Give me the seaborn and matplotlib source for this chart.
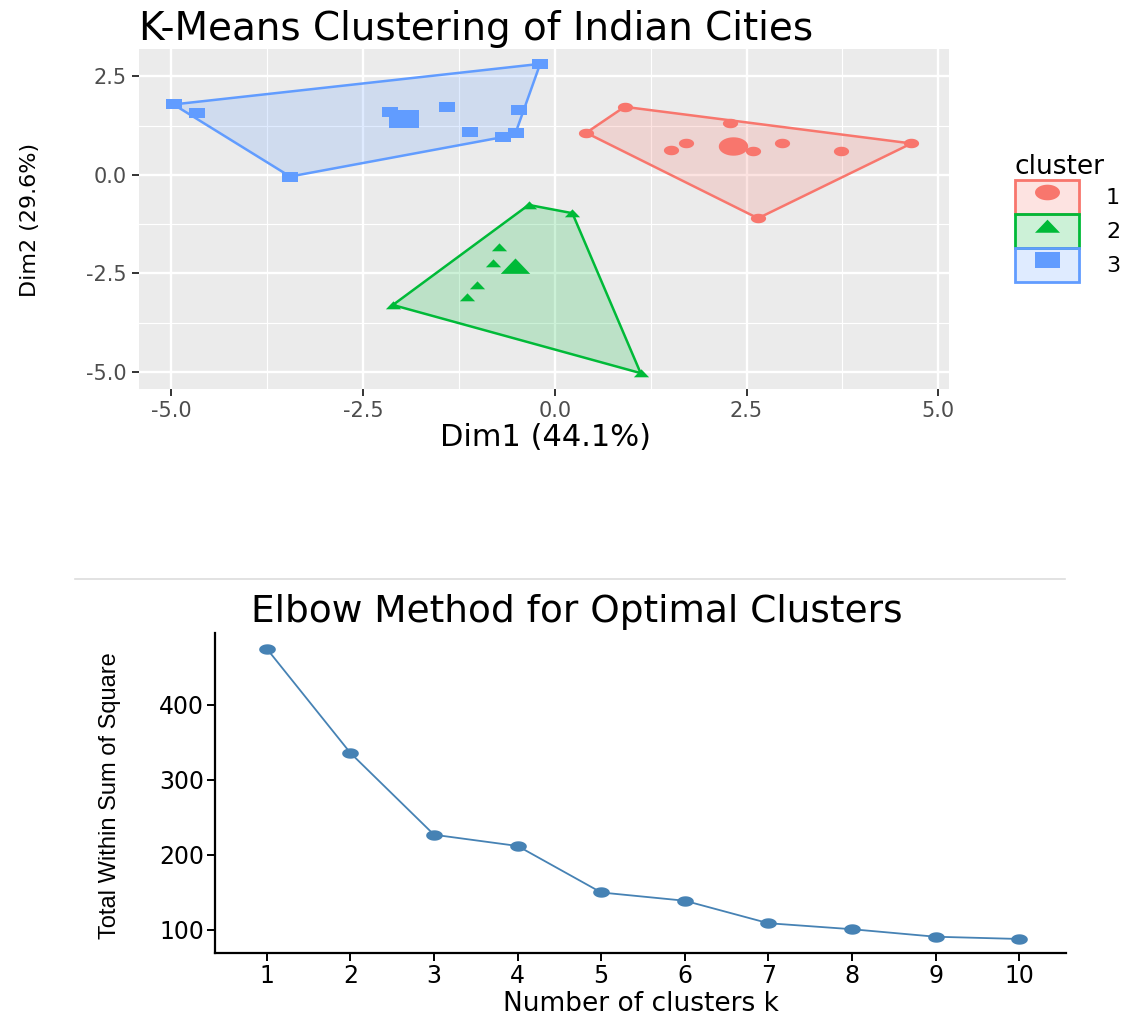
import numpy as np
import pandas as pd
import matplotlib
matplotlib.use("Agg")
import matplotlib.pyplot as plt
import seaborn as sns
from matplotlib.path import Path
from matplotlib.patches import Polygon, Patch
from matplotlib.lines import Line2D
from matplotlib import font_manager

# ---------------- data ----------------
c1_x = [0.91, 0.41, 2.29, 1.71, 1.52, 2.58, 2.96, 3.73, 4.65, 2.65]
c1_y = [1.73, 1.07, 1.31, 0.80, 0.63, 0.62, 0.80, 0.60, 0.80, -1.10]
c2_x = [-0.34, 0.23, -2.11, 1.12, -0.73, -0.81, -1.02, -1.15]
c2_y = [-0.76, -0.97, -3.30, -5.03, -1.84, -2.24, -2.79, -3.10]
c3_x = [-4.97, -4.67, -3.45, -2.15, -1.41, -1.11, -0.68, -0.51, -0.46, -0.19]
c3_y = [1.79, 1.57, -0.04, 1.59, 1.73, 1.10, 0.96, 1.07, 1.65, 2.82]
centers_x = [2.33, -0.52, -1.96]
centers_y = [0.74, -2.31, 1.43]
cluster_labels = ["1", "2", "3"]

k_values = [1, 2, 3, 4, 5, 6, 7, 8, 9, 10]
wss = [475, 336, 227, 212, 150, 139, 109, 101, 91, 88]

# ---------------- style ----------------
FONT = "DejaVu Sans"
plt.rcParams["font.family"] = [FONT]
available = {f.name for f in font_manager.fontManager.ttflist}

colors = ["#F8766D", "#00BA38", "#619CFF"]

# horizontally stretched markers (the reference is a stretched screenshot)
sx = 1.6
theta = np.linspace(0, 2 * np.pi, 40)
ellipse = Path(np.column_stack([sx * np.cos(theta), np.sin(theta)]), closed=True)
tri = Path([(-1.1, -0.55), (1.1, -0.55), (0.0, 0.6), (-1.1, -0.55)], closed=True)
rect = Path([(-sx / 2, -0.5), (sx / 2, -0.5), (sx / 2, 0.5), (-sx / 2, 0.5), (-sx / 2, -0.5)], closed=True)
markers = [ellipse, tri, rect]


def convex_hull(pts):
    pts = sorted(set(pts))
    if len(pts) <= 2:
        return pts

    def cross(o, a, b):
        return (a[0] - o[0]) * (b[1] - o[1]) - (a[1] - o[1]) * (b[0] - o[0])

    lower = []
    for p in pts:
        while len(lower) >= 2 and cross(lower[-2], lower[-1], p) <= 0:
            lower.pop()
        lower.append(p)
    upper = []
    for p in reversed(pts):
        while len(upper) >= 2 and cross(upper[-2], upper[-1], p) <= 0:
            upper.pop()
        upper.append(p)
    return lower[:-1] + upper[:-1]


fig = plt.figure(figsize=(11.3, 10.16), dpi=100)
fig.patch.set_facecolor("white")

# ---------------- top: k-means scatter ----------------
ax1 = fig.add_axes([139 / 1130, 1 - 388.5 / 1016, (949 - 139) / 1130, (388.5 - 48.5) / 1016])
ax1.set_facecolor("#EBEBEB")
ax1.set_xlim(-5.42, 5.14)
ax1.set_ylim(-5.42, 3.21)
ax1.set_xticks([-5.0, -2.5, 0.0, 2.5, 5.0])
ax1.set_yticks([-5.0, -2.5, 0.0, 2.5])
ax1.set_xticks([-3.75, -1.25, 1.25, 3.75], minor=True)
ax1.set_yticks([-3.75, -1.25, 1.25], minor=True)
ax1.grid(which="major", color="white", lw=1.7)
ax1.grid(which="minor", color="white", lw=0.8)
ax1.set_axisbelow(True)
for s in ax1.spines.values():
    s.set_visible(False)
ax1.tick_params(which="major", length=5, width=1.4, color="#333333",
                labelsize=15, labelcolor="#4D4D4D", pad=4)
ax1.tick_params(which="minor", length=0)
ax1.set_xticklabels(["-5.0", "-2.5", "0.0", "2.5", "5.0"])
ax1.set_yticklabels(["-5.0", "-2.5", "0.0", "2.5"])

clusters = [(c1_x, c1_y), (c2_x, c2_y), (c3_x, c3_y)]
for i, (xs, ys) in enumerate(clusters):
    hull = convex_hull(list(zip(xs, ys)))
    poly = Polygon(hull, closed=True, facecolor=matplotlib.colors.to_rgba(colors[i], 0.2),
                   edgecolor=colors[i], lw=1.8, zorder=2)
    ax1.add_patch(poly)
    df = pd.DataFrame({"x": xs, "y": ys})
    sns.scatterplot(data=df, x="x", y="y", ax=ax1, color=colors[i], marker=markers[i],
                    s=120, linewidth=0, zorder=3, legend=False)
    cdf = pd.DataFrame({"x": [centers_x[i]], "y": [centers_y[i]]})
    sns.scatterplot(data=cdf, x="x", y="y", ax=ax1, color=colors[i], marker=markers[i],
                    s=450, linewidth=0, zorder=4, legend=False)

ax1.set_xlabel("Dim1 (44.1%)", fontsize=22, color="black", va="center")
ax1.xaxis.set_label_coords((545 - 139) / 810, (388.5 - 437) / 340)
ax1.set_ylabel("Dim2 (29.6%)", fontsize=16, color="black", va="center")
ax1.yaxis.set_label_coords((30 - 139) / 810, (388.5 - 220) / 340)
ax1.set_title("K-Means Clustering of Indian Cities", fontsize=28, loc="left",
              color="black", pad=6)

handles = []
for i in range(3):
    p = Patch(facecolor=matplotlib.colors.to_rgba(colors[i], 0.2), edgecolor=colors[i], lw=2)
    m = Line2D([], [], linestyle="none", marker=markers[i], color=colors[i], markersize=18,
               markeredgewidth=0)
    handles.append((p, m))
leg = fig.legend(handles, cluster_labels, loc="upper left",
                 bbox_to_anchor=(1006 / 1130, 1 - 145 / 1016), frameon=False,
                 title="cluster", fontsize=16, title_fontsize=19,
                 handlelength=2.9, handleheight=1.95, labelspacing=0.02,
                 handletextpad=1.2, borderaxespad=0)
leg._legend_box.align = "left"

# separator strip (screenshot toolbar remnant)
fig.add_artist(Line2D([75 / 1130, 1065 / 1130], [1 - 579 / 1016, 1 - 579 / 1016],
                      color="#DDDDDD", lw=1.2, transform=fig.transFigure))

# ---------------- bottom: elbow ----------------
ax2 = fig.add_axes([215 / 1130, 1 - 953 / 1016, (1066 - 215) / 1130, (953 - 633) / 1016])
ax2.set_facecolor("white")
edf = pd.DataFrame({"k": k_values, "wss": wss})
sns.lineplot(data=edf, x="k", y="wss", ax=ax2, color="#4682B4", lw=1.3,
             marker=ellipse, markersize=12, markeredgewidth=0)
ax2.set_xlim(0.38, 10.56)
ax2.set_ylim(69.3, 496)
ax2.set_xticks(k_values)
ax2.set_yticks([100, 200, 300, 400])
for side in ["top", "right"]:
    ax2.spines[side].set_visible(False)
for side in ["left", "bottom"]:
    ax2.spines[side].set_linewidth(1.6)
    ax2.spines[side].set_color("black")
ax2.tick_params(length=6, width=1.4, color="black", labelsize=17, labelcolor="black", pad=2)
ax2.set_xlabel("Number of clusters k", fontsize=19, color="black", va="baseline")
ax2.xaxis.set_label_coords((641 - 215) / 851, (953 - 1011) / 320)
if "Liberation Sans Narrow" in available:
    ax2.set_ylabel("Total Within Sum of Square", fontsize=20,
                   family=["Liberation Sans Narrow", "DejaVu Sans"], va="center")
else:
    ax2.set_ylabel("Total Within Sum of Square", fontsize=17,
                   family=["Liberation Sans", "DejaVu Sans"], va="center")
ax2.yaxis.set_label_coords((110 - 215) / 851, (953 - 796) / 320)
ax2.set_title("Elbow Method for Optimal Clusters", fontsize=27, color="black", pad=8,
              x=(577 - 215) / (1066 - 215))

fig.savefig("out.png", dpi=100, facecolor="white")
